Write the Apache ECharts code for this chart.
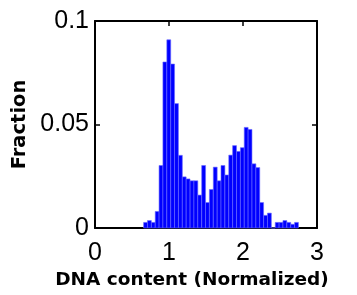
<!DOCTYPE html>
<html>
<head>
<meta charset="utf-8">
<script src="https://cdn.jsdelivr.net/npm/echarts@6/dist/echarts.min.js"></script>
<style>
  html, body { margin: 0; padding: 0; background: #fff; }
  #chart { width: 357px; height: 295px; }
</style>
</head>
<body>
<div id="chart"></div>
<script>
// histogram bins (DNA content, normalized) and fractions
var binWidth = 0.0523
var binCenters = [0.683, 0.735, 0.788, 0.840, 0.892, 0.944, 0.997, 1.049, 1.101, 1.154,
  1.206, 1.258, 1.311, 1.363, 1.415, 1.468, 1.520, 1.572, 1.625, 1.677,
  1.729, 1.782, 1.834, 1.886, 1.939, 1.991, 2.043, 2.095, 2.148, 2.200,
  2.252, 2.305, 2.357, 2.409, 2.462, 2.514, 2.566, 2.619, 2.671, 2.723]
var fractions = [0.0027, 0.0036, 0.0027, 0.0080, 0.0302, 0.0802, 0.0909, 0.0792, 0.0601, 0.0351,
  0.0247, 0.0237, 0.0228, 0.0228, 0.0159, 0.0302, 0.0123, 0.0186, 0.0294, 0.0228,
  0.0302, 0.0256, 0.0352, 0.0398, 0.0370, 0.0388, 0.0486, 0.0476, 0.0310, 0.0292,
  0.0123, 0.0061, 0.0072, 0, 0.0027, 0.0027, 0.0036, 0.0027, 0.0018, 0.0027]
var xTicks = [0, 1, 2, 3]
var yTicks = [0, 0.05, 0.1]

var chart = echarts.init(document.getElementById('chart'))

var histData = []
for (var i = 0; i < binCenters.length; i++) {
  histData.push([binCenters[i] - binWidth / 2, binCenters[i] + binWidth / 2, fractions[i]])
}

var frameLine = { show: true, onZero: false, lineStyle: { color: '#000', width: 2 } }
var tickIn = { show: true, inside: true, length: 5, lineStyle: { color: '#000', width: 1.5 } }
var labelFont = { color: '#000', fontFamily: 'Liberation Sans, Arial', fontSize: 25 }

var option = {
  animation: false,
  backgroundColor: '#fff',
  grid: { left: 95, right: 40, top: 21, bottom: 62 },
  xAxis: [
    {
      type: 'value', min: xTicks[0], max: xTicks[xTicks.length - 1], interval: 1,
      position: 'bottom',
      name: 'DNA content (Normalized)',
      nameLocation: 'middle',
      nameGap: 43,
      nameTextStyle: { color: '#000', fontFamily: 'DejaVu Sans', fontWeight: 'bold', fontSize: 18.5, padding: [0, 28, 0, 0] },
      axisLine: frameLine,
      axisTick: tickIn,
      axisLabel: Object.assign({ margin: 13 }, labelFont),
      splitLine: { show: false }
    },
    {
      type: 'value', min: xTicks[0], max: xTicks[xTicks.length - 1], interval: 1,
      position: 'top',
      axisLine: frameLine,
      axisTick: tickIn,
      axisLabel: { show: false },
      splitLine: { show: false }
    }
  ],
  yAxis: [
    {
      type: 'value', min: yTicks[0], max: yTicks[yTicks.length - 1], interval: 0.05,
      position: 'left',
      name: 'Fraction',
      nameLocation: 'middle',
      nameGap: 56,
      nameTextStyle: { color: '#000', fontFamily: 'DejaVu Sans', fontWeight: 'bold', fontSize: 19.5 },
      axisLine: frameLine,
      axisTick: tickIn,
      axisLabel: Object.assign({ margin: 6, padding: [0, 0, 0, 0], lineHeight: 25, verticalAlign: 'middle' }, labelFont),
      splitLine: { show: false }
    },
    {
      type: 'value', min: yTicks[0], max: yTicks[yTicks.length - 1], interval: 0.05,
      position: 'right',
      axisLine: frameLine,
      axisTick: tickIn,
      axisLabel: { show: false },
      splitLine: { show: false }
    }
  ],
  series: [
    {
      type: 'custom',
      xAxisIndex: 0,
      yAxisIndex: 0,
      data: histData,
      renderItem: function (params, api) {
        var p0 = api.coord([api.value(0), 0])
        var p1 = api.coord([api.value(1), api.value(2)])
        return {
          type: 'rect',
          shape: { x: p0[0], y: p1[1], width: p1[0] - p0[0], height: p0[1] - p1[1] },
          style: { fill: '#0000ff', stroke: '#6a6aff', lineWidth: 0.6 }
        }
      },
      z: 1
    }
  ]
}

chart.setOption(option)
</script>
</body>
</html>
